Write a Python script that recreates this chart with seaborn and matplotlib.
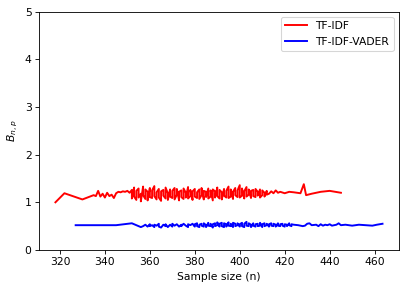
import matplotlib
matplotlib.use("Agg")
import matplotlib.pyplot as plt
import seaborn as sns

# -----------------------------
# data
# (several values per n where the curve shows vertical spikes)
# -----------------------------
tfidf_n = [318, 322, 330, 335, 336, 337, 338, 339, 340, 341, 342, 343, 344, 345,
           346, 347, 348, 349, 350, 351,
           352, 352, 353, 353, 354, 354, 355, 355, 356, 356, 357, 357, 358, 358,
           359, 359, 360, 360, 361, 361, 362, 362, 363, 363, 364, 364, 365, 365,
           366, 366, 367, 367, 368, 368, 369, 369, 370, 370, 371, 371, 372, 372,
           373, 373, 374, 374, 375, 375, 376, 376, 377, 377, 378, 378, 379, 379,
           380, 380, 381, 381, 382, 382, 383, 383, 384, 384, 385, 385, 386, 386,
           387, 387, 388, 388, 389, 389, 390, 390, 391, 391, 392, 392, 393, 393,
           394, 394, 395, 395, 396, 396, 397, 397, 398, 398, 399, 399, 400, 400,
           401, 401, 402, 402, 403, 403, 404, 404, 405, 405, 406, 406, 407, 407,
           408, 408, 409, 409, 410, 410, 411, 411, 412, 412,
           413, 414, 415, 416, 417, 418, 420, 422, 424, 427, 428.5, 429.5, 432,
           436, 440, 445]
tfidf_b = [1.00, 1.19, 1.06, 1.15, 1.13, 1.24, 1.12, 1.18, 1.10, 1.20, 1.13, 1.16, 1.09, 1.19,
           1.22, 1.21, 1.23, 1.22, 1.24, 1.20,
           1.26, 1.08, 1.31, 1.12, 1.05, 1.24, 1.29, 1.10, 1.18, 1.02, 1.33, 1.15, 1.07, 1.27,
           1.22, 1.04, 1.30, 1.11, 1.09, 1.25, 1.34, 1.13, 1.06, 1.21, 1.28, 1.10, 1.03, 1.23,
           1.26, 1.14, 1.08, 1.31, 1.19, 1.05, 1.27, 1.12, 1.09, 1.24, 1.30, 1.06, 1.16, 1.28,
           1.04, 1.22, 1.25, 1.11, 1.07, 1.29, 1.20, 1.10, 1.32, 1.08, 1.13, 1.26, 1.05, 1.23,
           1.28, 1.12, 1.09, 1.21, 1.27, 1.07, 1.15, 1.30, 1.06, 1.24, 1.22, 1.11, 1.29, 1.08,
           1.12, 1.25, 1.04, 1.27, 1.23, 1.10, 1.31, 1.13, 1.08, 1.26, 1.21, 1.06, 1.28, 1.14,
           1.10, 1.24, 1.33, 1.09, 1.12, 1.27, 1.07, 1.22, 1.30, 1.15, 1.11, 1.25, 1.36, 1.10,
           1.14, 1.29, 1.08, 1.23, 1.32, 1.12, 1.16, 1.27, 1.09, 1.24, 1.26, 1.13, 1.11, 1.28,
           1.22, 1.14, 1.27, 1.10, 1.15, 1.25, 1.20, 1.12, 1.24, 1.16,
           1.18, 1.23, 1.19, 1.25, 1.20, 1.22, 1.19, 1.22, 1.21, 1.19, 1.38, 1.15, 1.18,
           1.22, 1.24, 1.20]

vader_n = [327, 345, 352, 356, 357, 358, 359, 360, 360, 361, 362, 362, 363, 364, 364,
           365, 366, 367, 367, 368, 369, 370, 370, 371, 372, 373, 374, 374, 375, 376,
           377, 377, 378, 379,
           380, 380, 381, 381, 382, 382, 383, 383, 384, 384, 385, 385, 386, 386,
           387, 387, 388, 388, 389, 389, 390, 390, 391, 391, 392, 392, 393, 393,
           394, 394, 395, 395, 396, 396, 397, 397, 398, 398, 399, 399, 400, 400,
           401, 401, 402, 402, 403, 403, 404, 404, 405, 405, 406, 406, 407, 407,
           408, 408, 409, 409, 410, 410, 411, 411, 412, 412, 413, 413, 414, 414,
           415, 415, 416, 416, 417, 417, 418, 418, 419, 419, 420, 420, 421, 421,
           422, 422, 423, 423,
           424, 426, 428, 429, 430, 431, 432, 434, 435, 436, 437, 438, 439,
           440, 441, 443, 444, 445, 447, 450, 453, 456, 459, 461, 463.5]
vader_b = [0.52, 0.52, 0.56, 0.48, 0.50, 0.53, 0.49, 0.54, 0.50, 0.52, 0.48, 0.53, 0.51, 0.55, 0.49,
           0.47, 0.53, 0.50, 0.54, 0.48, 0.53, 0.49, 0.55, 0.51, 0.54, 0.49, 0.53, 0.50, 0.55, 0.51,
           0.48, 0.54, 0.52, 0.55,
           0.49, 0.54, 0.56, 0.50, 0.48, 0.53, 0.55, 0.51, 0.49, 0.56, 0.52, 0.48, 0.57, 0.51,
           0.50, 0.55, 0.47, 0.54, 0.56, 0.50, 0.52, 0.58, 0.49, 0.55, 0.57, 0.50, 0.48, 0.56,
           0.54, 0.49, 0.58, 0.51, 0.50, 0.55, 0.48, 0.57, 0.55, 0.50, 0.52, 0.56, 0.49, 0.54,
           0.57, 0.50, 0.48, 0.55, 0.59, 0.51, 0.50, 0.56, 0.53, 0.48, 0.56, 0.51, 0.49, 0.54,
           0.55, 0.50, 0.51, 0.57, 0.48, 0.54, 0.56, 0.50, 0.52, 0.55, 0.49, 0.54, 0.56, 0.51,
           0.50, 0.55, 0.53, 0.49, 0.56, 0.51, 0.50, 0.54, 0.55, 0.51, 0.49, 0.54, 0.53, 0.50,
           0.56, 0.52, 0.50, 0.54,
           0.53, 0.52, 0.50, 0.51, 0.55, 0.56, 0.52, 0.53, 0.50, 0.54, 0.51, 0.53, 0.52,
           0.54, 0.51, 0.53, 0.56, 0.52, 0.53, 0.51, 0.53, 0.52, 0.51, 0.53, 0.55]

# -----------------------------
# plot
# -----------------------------
fig = plt.figure(figsize=(407 / 77, 290 / 77), dpi=77)
ax = fig.add_subplot(111)
fig.subplots_adjust(left=0.096, right=0.980, bottom=0.138, top=0.960)

sns.lineplot(x=tfidf_n, y=tfidf_b, color="red", label="TF-IDF",
             estimator=None, sort=False, linewidth=1.8, ax=ax)
sns.lineplot(x=vader_n, y=vader_b, color="blue", label="TF-IDF-VADER",
             estimator=None, sort=False, linewidth=1.8, ax=ax)

ax.set_ylim(0, 5)
ax.set_xlabel("Sample size (n)")
ax.set_ylabel(r"$B_{n,p}$")
ax.legend(loc="upper right")

fig.savefig("out.png", dpi=77)
